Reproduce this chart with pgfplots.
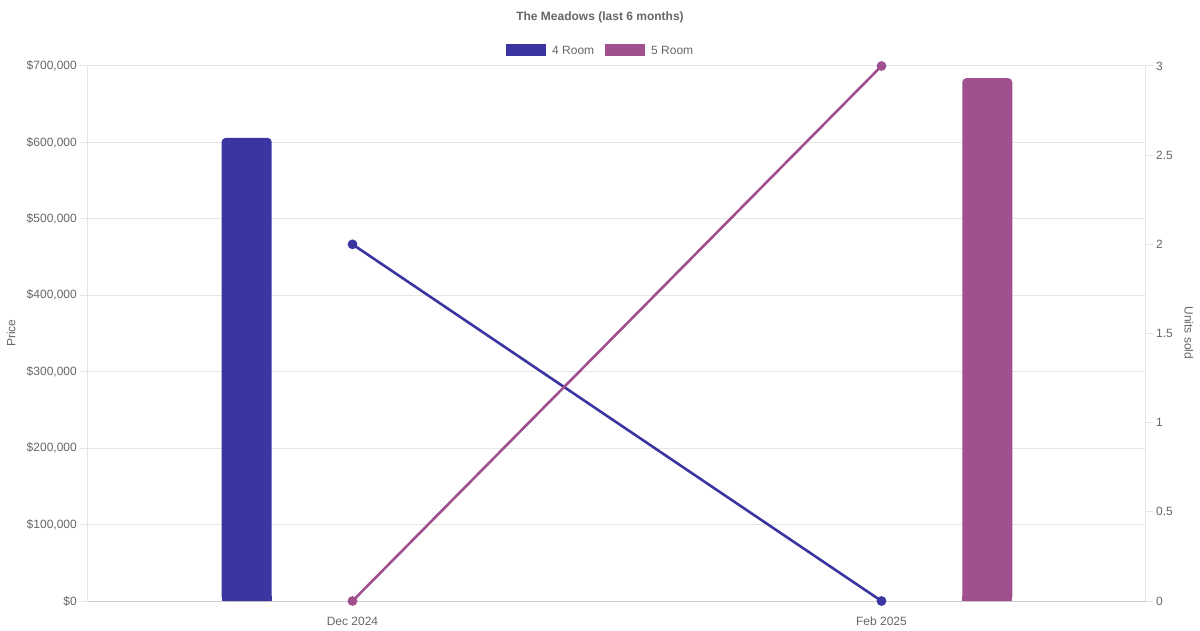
\documentclass[border=0pt]{standalone}
\usepackage{pgfplots}
\pgfplotsset{compat=1.18}
\usepackage{fontspec}
\setmainfont{Liberation Sans}
\definecolor{roomA}{HTML}{3A35A0}
\definecolor{roomB}{HTML}{A0508F}
\definecolor{txt}{HTML}{666666}
\definecolor{gridc}{HTML}{E5E5E5}
\definecolor{axisc}{HTML}{CCCCCC}
\pgfplotstableread{
x price
0 606000
}\fourroom
\pgfplotstableread{
x price
1 684000
}\fiveroom
\pgfplotsset{
  base/.style={at={(88pt,29pt)}, anchor=south west, scale only axis, width=1058pt, xmin=-0.5, xmax=1.5},
  barA/.style={ybar, bar width=50pt, bar shift=-0.2, fill=roomA, draw=none},
  barB/.style={ybar, bar width=50pt, bar shift=0.2, fill=roomB, draw=none},
}
\begin{document}
\fontsize{12pt}{14pt}\selectfont
\begin{tikzpicture}
\useasboundingbox (0,0) rectangle (1200pt,630pt);
\begin{axis}[
  base, height=535pt,
  ymin=0, ymax=700000,
  xtick={0,1}, xticklabels={Dec 2024, Feb 2025},
  ytick={0,100000,...,700000},
  scaled y ticks=false,
  yticklabel={\$\pgfmathprintnumber[fixed,1000 sep={,}]{\tick}},
  /pgf/number format/assume math mode=true,
  ymajorgrids, grid style={gridc, line width=1pt},
  axis y line*=left, axis x line*=bottom,
  x axis line style={axisc, line width=1pt, -},
  y axis line style={gridc, line width=1pt, -},
  tick align=outside, major tick length=8pt,
  ytick style={gridc, line width=1pt}, xtick style={draw=none},
  tick label style={txt, font=\fontsize{12pt}{14pt}\selectfont},
  yticklabel style={inner sep=3pt},
  xticklabel style={inner sep=0pt, yshift=-8pt},
]
\addplot[barA, rounded corners=4pt] table[x=x, y=price] {\fourroom};
\addplot[barB, rounded corners=4pt] table[x=x, y=price] {\fiveroom};
\end{axis}
% square off the bottom corners: same bars, same scale, clipped to a thin strip
\begin{axis}[
  base, height=5pt,
  ymin=0, ymax=6542.06,
  hide axis,
]
\addplot[barA] table[x=x, y=price] {\fourroom};
\addplot[barB] table[x=x, y=price] {\fiveroom};
\end{axis}
\begin{axis}[
  base, height=535pt,
  ymin=0, ymax=3,
  axis x line=none, axis y line*=right,
  y axis line style={gridc, line width=1pt, -},
  ytick={0,0.5,1,1.5,2,2.5,3},
  /pgf/number format/assume math mode=true,
  tick align=outside, major tick length=7pt,
  ytick style={gridc, line width=1pt},
  tick label style={txt, font=\fontsize{12pt}{14pt}\selectfont},
  yticklabel style={inner sep=3pt},
  clip=false,
]
\addplot[roomA, line width=2.6pt, mark=*, mark size=3.5pt, mark options={fill=roomA, draw=none}] coordinates {(0,2) (1,0)};
\addplot[roomB, line width=2.6pt, mark=*, mark size=3.5pt, mark options={fill=roomB, draw=none}] coordinates {(0,0) (1,3)};
\end{axis}
\node[txt, font=\bfseries\fontsize{12pt}{14pt}\selectfont] at (600pt,612.5pt) {The Meadows (last 6 months)};
\fill[roomA] (506pt,574pt) rectangle (546pt,586pt);
\node[txt, anchor=west, inner sep=0pt] at (552pt,580pt) {4 Room};
\fill[roomB] (605pt,574pt) rectangle (645pt,586pt);
\node[txt, anchor=west, inner sep=0pt] at (651pt,580pt) {5 Room};
\node[txt, rotate=90] at (11pt,297pt) {Price};
\node[txt, rotate=-90] at (1189pt,297pt) {Units sold};
\end{tikzpicture}
\end{document}
